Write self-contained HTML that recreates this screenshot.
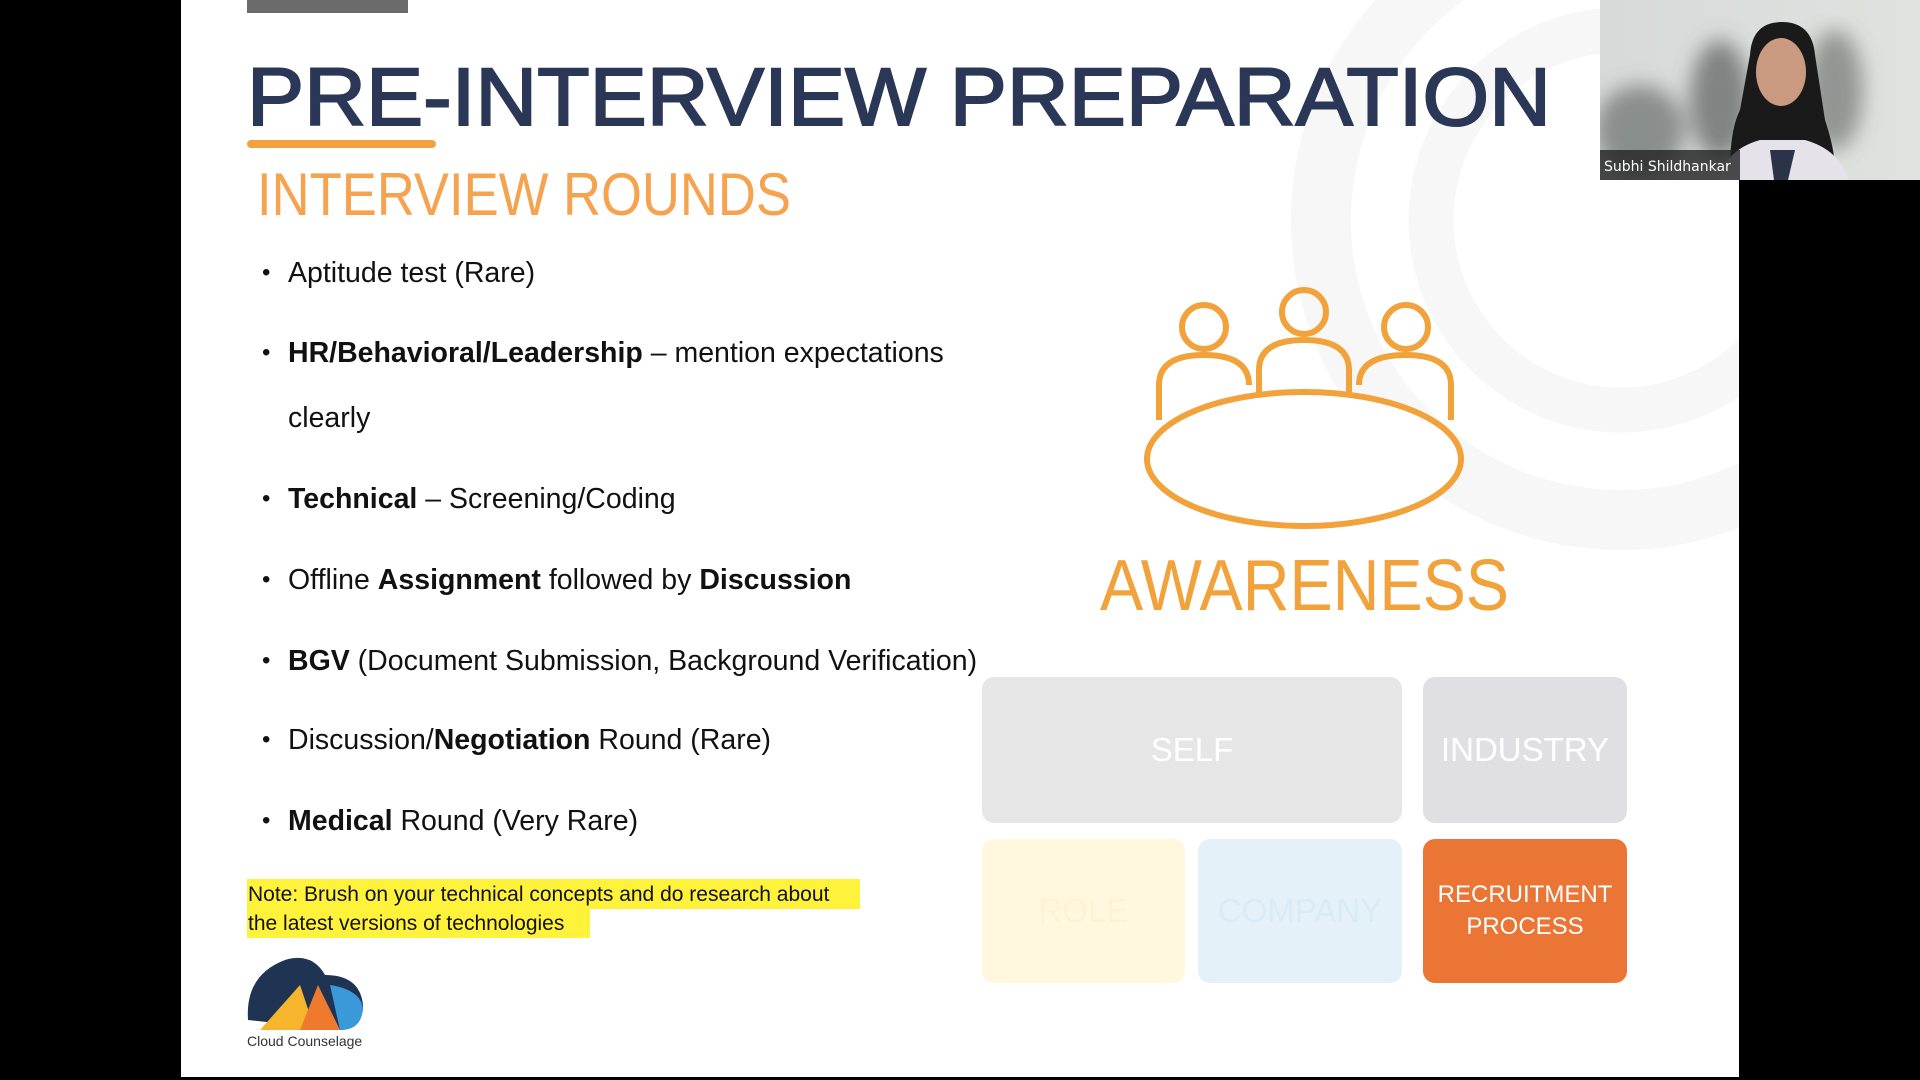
<!DOCTYPE html>
<html><head><meta charset="utf-8"><style>
html,body{margin:0;padding:0;width:1920px;height:1080px;background:#000;overflow:hidden;font-family:"Liberation Sans",sans-serif}
.abs{position:absolute}
#slide{position:absolute;left:181px;top:0;width:1558px;height:1077px;background:#fff;overflow:hidden}
.bul{position:absolute;left:288px;font-size:28.5px;color:#111;white-space:nowrap}
.bul::before{content:"•";position:absolute;left:-26px;font-size:24px;top:2px}
.box{position:absolute;border-radius:12px;display:flex;align-items:center;justify-content:center;text-align:center;color:#fff;font-size:33px}
</style></head><body>
<div id="slide">
<svg class="abs" style="left:0;top:0" width="1558" height="1077">
<g fill="none" stroke="#f7f7f7">
<circle cx="1440" cy="220" r="300" stroke-width="60"/>
<circle cx="1440" cy="220" r="190" stroke-width="45"/>
</g></svg>
</div>
<div class="abs" style="left:247px;top:0;width:161px;height:13px;background:#6b6b6b"></div>
<svg class="abs" style="left:0;top:0" width="1920" height="1080">
<text x="247" y="125" font-family="Liberation Sans" font-size="82" fill="#2b3757" stroke="#2b3757" stroke-width="2" textLength="1304" lengthAdjust="spacingAndGlyphs">PRE-INTERVIEW PREPARATION</text>
<rect x="247" y="140" width="189" height="8" rx="4" fill="#f2a340"/>
<text x="257" y="215" font-family="Liberation Sans" font-size="60" fill="#f6a350" textLength="534" lengthAdjust="spacingAndGlyphs">INTERVIEW ROUNDS</text>
<g fill="none" stroke="#f2a23a" stroke-width="6">
<circle cx="1204" cy="327" r="22"/><circle cx="1304" cy="312" r="22"/><circle cx="1406" cy="327" r="22"/>
<path d="M1159 420 V385 Q1159 355 1204 355 Q1249 355 1249 385"/>
<path d="M1259 395 V370 Q1259 340 1304 340 Q1349 340 1349 370 V395"/>
<path d="M1359 385 Q1359 355 1406 355 Q1451 355 1451 385 V420"/>
<ellipse cx="1304" cy="459" rx="157" ry="67" fill="#fff"/>
</g>
<text x="1100" y="610" font-family="Liberation Sans" font-size="72" fill="#f2a23a" textLength="409" lengthAdjust="spacingAndGlyphs">AWARENESS</text>
<g>
<path d="M248 1020 Q245 975 285 960 Q312 952 325 975 Q360 975 363 1005 Q363 1030 340 1030 Z" fill="#1f3352"/>
<path d="M260 1030 L300 985 L315 1030 Z" fill="#f6b52d"/>
<path d="M300 1030 L318 985 L340 1030 Z" fill="#ef7a2e"/>
<path d="M330 985 Q362 990 363 1010 Q360 1030 340 1030 Z" fill="#3a9ad9"/>
</g>
<text x="247" y="1046" font-family="Liberation Sans" font-size="14" fill="#333">Cloud Counselage</text>
</svg>
<div class="bul" style="top:257px">Aptitude test (Rare)</div>
<div class="bul" style="top:337px"><b>HR/Behavioral/Leadership</b> – mention expectations</div>
<div class="abs" style="left:288px;top:402px;font-size:28.5px;color:#111">clearly</div>
<div class="bul" style="top:483px"><b>Technical</b> – Screening/Coding</div>
<div class="bul" style="top:564px">Offline <b>Assignment</b> followed by <b>Discussion</b></div>
<div class="bul" style="top:645px"><b>BGV</b> (Document Submission, Background Verification)</div>
<div class="bul" style="top:724px">Discussion/<b>Negotiation</b> Round (Rare)</div>
<div class="bul" style="top:805px"><b>Medical</b> Round (Very Rare)</div>
<div class="abs" style="left:247px;top:879px;width:613px;height:30px;background:#fff23a"></div>
<div class="abs" style="left:247px;top:909px;width:343px;height:29px;background:#fff23a"></div>
<div class="abs" style="left:248px;top:880px;font-size:21px;line-height:29px;color:#111;width:600px">Note: Brush on your technical concepts and do research about<br>the latest versions of technologies</div>
<div class="box" style="left:982px;top:677px;width:420px;height:146px;background:#e6e6e6">SELF</div>
<div class="box" style="left:1423px;top:677px;width:204px;height:146px;background:#e0e0e4">INDUSTRY</div>
<div class="box" style="left:982px;top:839px;width:203px;height:144px;background:#fff8df;color:#fdf3d4">ROLE</div>
<div class="box" style="left:1198px;top:839px;width:204px;height:144px;background:#e4f1f9;color:#d8ebf6">COMPANY</div>
<div class="box" style="left:1423px;top:839px;width:204px;height:144px;background:#ea7535;font-size:24px;line-height:32px">RECRUITMENT<br>PROCESS</div>
<svg class="abs" style="left:1600px;top:0" width="320" height="180">
<defs><linearGradient id="bg" x1="0" x2="1"><stop offset="0" stop-color="#d6dad8"/><stop offset="1" stop-color="#e0e2e0"/></linearGradient>
<filter id="bl"><feGaussianBlur stdDeviation="10"/></filter></defs>
<rect width="320" height="180" fill="url(#bg)"/>
<g filter="url(#bl)">
<ellipse cx="40" cy="130" rx="45" ry="45" fill="#6a6e6c" opacity=".7"/>
<ellipse cx="120" cy="100" rx="30" ry="60" fill="#5a5e5c" opacity=".7"/>
<ellipse cx="235" cy="90" rx="28" ry="60" fill="#5f6361" opacity=".6"/>
</g>
<path d="M130 170 Q130 130 140 110 L150 55 Q152 22 182 22 Q212 22 215 55 L225 120 Q235 150 235 170 Z" fill="#1a1a1a"/>
<ellipse cx="181" cy="72" rx="25" ry="34" fill="#c99a80"/>
<path d="M120 180 Q125 150 160 140 L205 140 Q240 150 248 180 Z" fill="#e6e2ea"/>
<path d="M170 150 L195 150 L188 180 L174 180 Z" fill="#2a3448"/>
<rect x="0" y="150" width="140" height="30" fill="#222" opacity=".8"/>
<text x="4" y="171" font-family="DejaVu Sans" font-size="14" fill="#fff">Subhi Shildhankar</text>
</svg>
</body></html>
